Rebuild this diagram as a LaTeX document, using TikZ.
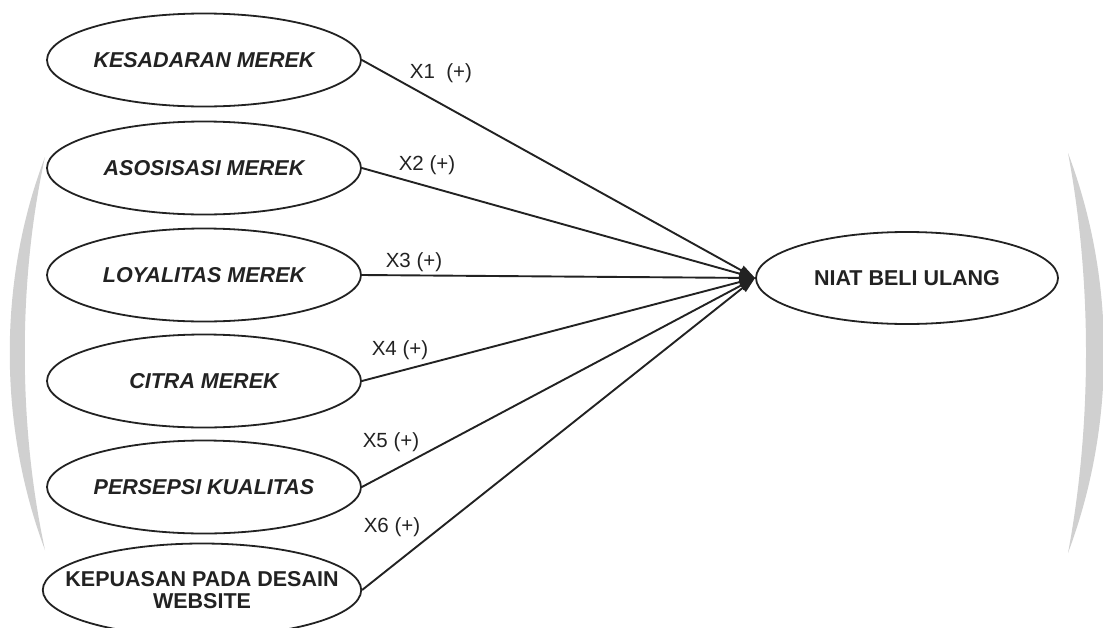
\documentclass[tikz,border=0pt]{standalone}
\usepackage{fontspec}
\setmainfont{Liberation Sans}
\usetikzlibrary{shapes.geometric,arrows.meta}

\definecolor{garis}{HTML}{222222}
\definecolor{tanda}{HTML}{D0D0D0}

\begin{document}
\begin{tikzpicture}[x=1pt,y=-1pt,
		konstruk/.style={draw=garis,ellipse,line width=1.8pt,minimum width=314pt,minimum height=93pt,inner sep=0pt,align=center,text=garis,font=\fontsize{21.5}{22}\selectfont\bfseries\itshape},
		jalur/.style={draw=garis,line width=1.9pt,-{Triangle[length=16pt,width=10pt]}},
		lbl/.style={text=garis,font=\fontsize{20.5}{22}\selectfont}]
			\useasboundingbox (0,0) rectangle (1103,627);
			% faint marks in the background
			\fill[tanda] (45,157) .. controls (-2,280) and (-2,425) .. (45,550) .. controls (18,425) and (18,280) .. cycle;
			\fill[tanda] (1068,153) .. controls (1116,280) and (1116,425) .. (1068,553) .. controls (1092,425) and (1092,280) .. cycle;
			% variables X1..X6 on the left
			\node[konstruk] (kesadaran) at (204,60) {KESADARAN MEREK};
			\node[konstruk] (asosisasi) at (204,168) {ASOSISASI MEREK};
			\node[konstruk] (loyalitas) at (204,275) {LOYALITAS MEREK};
			\node[konstruk] (citra) at (204,381) {CITRA MEREK};
			\node[konstruk] (persepsi) at (204,487) {PERSEPSI KUALITAS};
			\node[konstruk,inner xsep=-24pt,minimum width=310pt] (kepuasan) at (202,590) {\upshape KEPUASAN PADA DESAIN\\\upshape WEBSITE}; % long text, squeeze the ellipse
			% dependent variable Y
			\node[konstruk,minimum width=302pt,minimum height=92pt,font=\fontsize{21.5}{22}\selectfont\bfseries] (niat) at (907,278) {NIAT BELI ULANG};
			% paths
			\draw[jalur] (kesadaran.east) -- (niat.west);
			\draw[jalur] (asosisasi.east) -- (niat.west);
			\draw[jalur] (loyalitas.east) -- (niat.west);
			\draw[jalur] (citra.east) -- (niat.west);
			\draw[jalur] (persepsi.east) -- (niat.west);
			\draw[jalur] (kepuasan.east) -- (niat.west);
			\node[lbl] (x1) at (441,73) {X1\ \ (+)};
			\node[lbl] (x2) at (427,165) {X2 (+)};
			\node[lbl] (x3) at (414,262) {X3 (+)};
			\node[lbl] (x4) at (400,350) {X4 (+)};
			\node[lbl] (x5) at (391,442) {X5 (+)};
			\node[lbl] (x6) at (392,527) {X6 (+)};
		\end{tikzpicture}
\end{document}
